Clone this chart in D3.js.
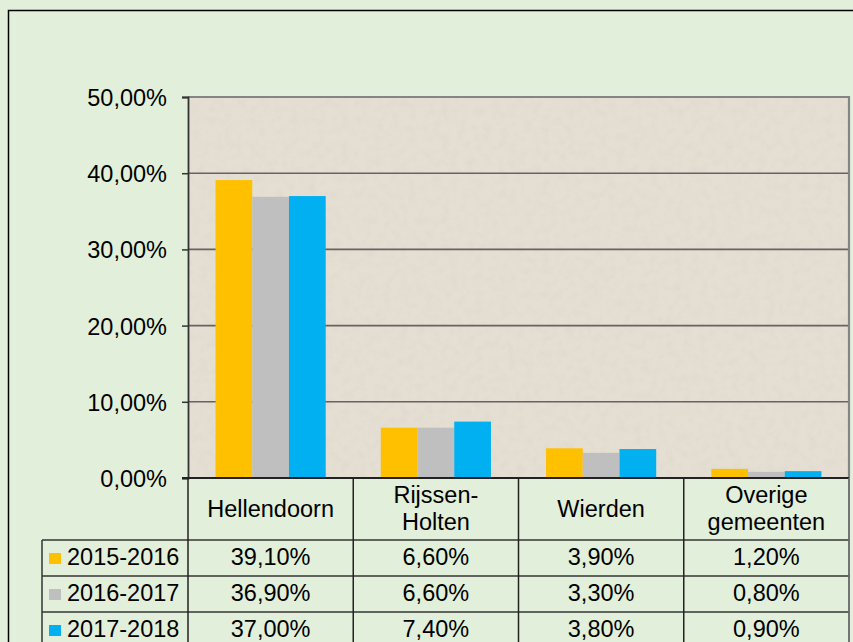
<!DOCTYPE html>
<html><head><meta charset="utf-8">
<script src="https://cdn.jsdelivr.net/npm/d3@7"></script>
<style>
html,body{margin:0;padding:0;background:#E2EFDA;overflow:hidden;}
svg{display:block;}
text{font-family:"Liberation Sans",Arial,sans-serif;fill:#000;}
</style></head>
<body>
<svg id="chart" width="853" height="642"></svg>
<script>
// ---- data ----
const categories = ["Hellendoorn", "Rijssen-Holten", "Wierden", "Overige gemeenten"];
const categoryLines = [["Hellendoorn"], ["Rijssen-", "Holten"], ["Wierden"], ["Overige", "gemeenten"]];
const seriesNames = ["2015-2016", "2016-2017", "2017-2018"];
const values2015 = [39.1, 6.6, 3.9, 1.2];
const values2016 = [36.9, 6.6, 3.3, 0.8];
const values2017 = [37.0, 7.4, 3.8, 0.9];
const seriesColors = ["#FFC000", "#BFBFBF", "#00B0F0"];
const yTicks = [0, 10, 20, 30, 40, 50];

const seriesValues = [values2015, values2016, values2017];
const fmt = v => d3.format(".2f")(v).replace(".", ",") + "%";
const FS = 23.5;

const svg = d3.select("#chart");
const defs = svg.append("defs");
const filt = defs.append("filter").attr("id", "tex").attr("x", 0).attr("y", 0).attr("width", 1).attr("height", 1);
filt.append("feTurbulence").attr("type", "fractalNoise").attr("baseFrequency", 0.12).attr("numOctaves", 3).attr("seed", 4).attr("result", "n");
filt.append("feColorMatrix").attr("in", "n").attr("type", "matrix")
  .attr("values", "0 0 0 0 0.60  0 0 0 0 0.56  0 0 0 0 0.50  1.2 0 0 0 -0.5").attr("result", "c");
filt.append("feComposite").attr("in", "c").attr("in2", "SourceGraphic").attr("operator", "in");

// outer frame
svg.append("rect").attr("x", 8.5).attr("y", 10.5).attr("width", 900).attr("height", 700)
  .attr("fill", "#E2EFDA").attr("stroke", "#000").attr("stroke-width", 1.5);

const plot = {x0: 188, x1: 849, y0: 97, y1: 478};
const x = d3.scaleBand().domain(categories).range([plot.x0, plot.x1]).paddingInner(0).paddingOuter(0);
const xs = d3.scaleBand().domain(seriesNames).range([0, x.bandwidth()]).paddingInner(0).paddingOuter(0.75);
const y = d3.scaleLinear().domain([0, 50]).range([plot.y1, plot.y0]);

// plot background
svg.append("rect").attr("x", plot.x0).attr("y", plot.y0).attr("width", plot.x1 - plot.x0).attr("height", plot.y1 - plot.y0)
  .attr("fill", "#E4DED3");
svg.append("rect").attr("x", plot.x0).attr("y", plot.y0).attr("width", plot.x1 - plot.x0).attr("height", plot.y1 - plot.y0)
  .attr("fill", "#fff").attr("filter", "url(#tex)").attr("opacity", 0.3);

// gridlines
svg.append("g").selectAll("line").data(yTicks.filter(t => t > 0 && t < 50)).join("line")
  .attr("x1", plot.x0).attr("x2", plot.x1).attr("y1", d => y(d)).attr("y2", d => y(d))
  .attr("stroke", "#646464").attr("stroke-width", 1.6);
// plot border top/right
svg.append("path").attr("d", `M${plot.x0},${plot.y0}H${plot.x1}V${plot.y1}`)
  .attr("fill", "none").attr("stroke", "#858585").attr("stroke-width", 2.2);

// bars
seriesValues.forEach((vals, si) => {
  svg.append("g").selectAll("rect").data(categories.map((c, i) => ({c, v: vals[i]}))).join("rect")
    .attr("x", d => x(d.c) + xs(seriesNames[si]))
    .attr("width", xs.bandwidth())
    .attr("y", d => y(d.v))
    .attr("height", d => y(0) - y(d.v))
    .attr("fill", seriesColors[si]);
});

// y axis
const yAxis = d3.axisLeft(y).tickValues(yTicks).tickFormat(fmt).tickSize(6).tickPadding(15);
const ga = svg.append("g").attr("transform", `translate(${plot.x0},0)`).call(yAxis);
ga.select(".domain").attr("stroke", "#333").attr("stroke-width", 1.8);
ga.selectAll(".tick line").attr("stroke", "#333").attr("stroke-width", 1.5);
ga.selectAll(".tick text").attr("font-size", FS).attr("font-family", "Liberation Sans, Arial, sans-serif")
  .attr("fill", "#000").attr("dy", "0.36em");

// data table
const rowH = 36, headerBottom = 540, legendX = 42;
const tbl = svg.append("g");
const hLines = [plot.y1, headerBottom, headerBottom + rowH, headerBottom + 2 * rowH, headerBottom + 3 * rowH];
hLines.forEach((yy, i) => {
  tbl.append("line").attr("x1", i === 0 ? plot.x0 - 6 : legendX).attr("x2", plot.x1).attr("y1", yy).attr("y2", yy)
    .attr("stroke", i === 0 ? "#222" : "#333").attr("stroke-width", i === 0 ? 2 : 1.5);
});
categories.forEach((c, i) => {
  tbl.append("line").attr("x1", x(c)).attr("x2", x(c)).attr("y1", plot.y1).attr("y2", 660)
    .attr("stroke", "#222").attr("stroke-width", 1.5);
});
tbl.append("line").attr("x1", plot.x1).attr("x2", plot.x1).attr("y1", plot.y1).attr("y2", 660)
  .attr("stroke", "#666").attr("stroke-width", 1.8);
tbl.append("line").attr("x1", legendX).attr("x2", legendX).attr("y1", headerBottom).attr("y2", 660)
  .attr("stroke", "#333").attr("stroke-width", 1.5);

// header labels
categories.forEach((c, i) => {
  const lines = categoryLines[i];
  const cx = x(c) + x.bandwidth() / 2;
  const t = tbl.append("text").attr("text-anchor", "middle").attr("font-size", FS);
  if (lines.length === 1) {
    t.append("tspan").attr("x", cx).attr("y", 517).text(lines[0]);
  } else {
    lines.forEach((l, j) => t.append("tspan").attr("x", cx).attr("y", 503 + j * 27).text(l));
  }
});

// rows
seriesNames.forEach((s, si) => {
  const top = headerBottom + si * rowH;
  const base = top + 25;
  tbl.append("rect").attr("x", 49).attr("y", top + 13).attr("width", 12).attr("height", 11).attr("fill", seriesColors[si]);
  tbl.append("text").attr("x", 67).attr("y", base).attr("font-size", FS).text(s);
  categories.forEach((c, i) => {
    tbl.append("text").attr("x", x(c) + x.bandwidth() / 2).attr("y", base).attr("text-anchor", "middle")
      .attr("font-size", FS).text(fmt(seriesValues[si][i]));
  });
});
</script>
</body></html>
